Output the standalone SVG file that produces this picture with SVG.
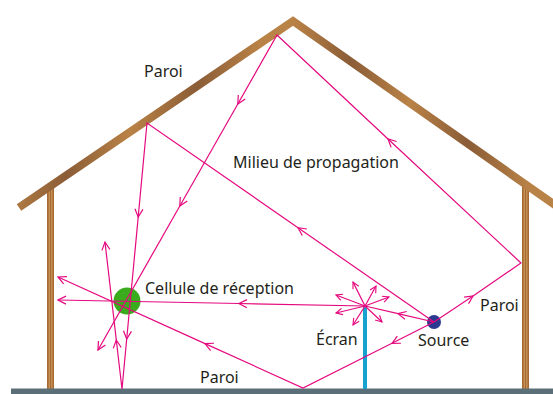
<svg xmlns="http://www.w3.org/2000/svg" width="553" height="394" viewBox="0 0 553 394">
  <style>
    .label { font-family: "Noto Sans", "Open Sans", "DejaVu Sans", sans-serif; font-size: 16px; fill: #231f20; }
    .ray { fill: none; stroke: #e5097f; stroke-width: 1.2; stroke-linejoin: miter; }
    .arr { marker-end: url(#ah); }
    .spoke { fill: none; stroke: #e5097f; stroke-width: 1.2; marker-end: url(#ahs); }
    .wall { fill: #a56b35; }
    .grain { stroke: #c99457; stroke-width: 1.3; }
  </style>
  <defs>
    <linearGradient id="wood" gradientUnits="userSpaceOnUse" x1="0" y1="0" x2="553" y2="0">
      <stop offset="0" stop-color="#b98246"/>
      <stop offset="0.12" stop-color="#8b5d37"/>
      <stop offset="0.235" stop-color="#b98246"/>
      <stop offset="0.356" stop-color="#8b5d37"/>
      <stop offset="0.47" stop-color="#b98246"/>
      <stop offset="0.53" stop-color="#b98246"/>
      <stop offset="0.633" stop-color="#8b5d37"/>
      <stop offset="0.74" stop-color="#b98246"/>
      <stop offset="0.845" stop-color="#8b5d37"/>
      <stop offset="0.96" stop-color="#b98246"/>
    </linearGradient>
    <marker id="ah" viewBox="0 0 10 10" refX="9" refY="5" markerWidth="10" markerHeight="10" markerUnits="userSpaceOnUse" orient="auto">
      <path d="M1,1 L9,5 L1,9" fill="none" stroke="#e5097f" stroke-width="1.2"/>
    </marker>
    <marker id="ahs" viewBox="0 0 10 10" refX="9" refY="5" markerWidth="8" markerHeight="8" markerUnits="userSpaceOnUse" orient="auto">
      <path d="M1,1 L9,5 L1,9" fill="none" stroke="#e5097f" stroke-width="1.4"/>
    </marker>
  </defs>

  <!-- building shell -->
  <g id="house">
    <g id="wall-left">
      <rect class="wall" x="47" y="188" width="7" height="201"/>
      <line class="grain" x1="49.3" y1="188" x2="49.3" y2="389"/>
      <line class="grain" x1="51.8" y1="188" x2="51.8" y2="389"/>
    </g>
    <g id="wall-right">
      <rect class="wall" x="522" y="186" width="7" height="203"/>
      <line class="grain" x1="524.3" y1="186" x2="524.3" y2="389"/>
      <line class="grain" x1="526.8" y1="186" x2="526.8" y2="389"/>
    </g>
    <polyline id="roof" points="19,207.5 293,21 562,210" fill="none" stroke="url(#wood)" stroke-width="8" stroke-linejoin="miter" stroke-miterlimit="10"/>
    <rect id="floor" x="11" y="388.5" width="542" height="5.5" fill="#5a6f78"/>
  </g>

  <!-- screen post -->
  <g id="ecran">
    <rect x="363" y="306" width="4" height="83" fill="#16a3cf"/>
  </g>

  <!-- receiver and emitter -->
  <g id="cellule">
    <circle cx="127" cy="301" r="13.5" fill="#3aab1c"/>
  </g>
  <g id="source">
    <circle cx="434" cy="322" r="7" fill="#2b3990"/>
  </g>

  <!-- propagation paths -->
  <g id="connectors">
    <!-- source -> right wall -> roof peak -> receiver -->
    <path class="ray arr" d="M434,322 L473,296"/>
    <path class="ray arr" d="M473,296 L521,263 L388,139"/>
    <path class="ray arr" d="M388,139 L277,35 L237.8,104"/>
    <path class="ray arr" d="M237.8,104 L179.8,206"/>
    <path class="ray arr" d="M179.8,206 L98,350"/>

    <!-- source -> roof -> floor -> up -->
    <path class="ray arr" d="M434,322 L298,227.7"/>
    <path class="ray arr" d="M298,227.7 L147,123 L138.2,217"/>
    <path class="ray arr" d="M138.2,217 L126.7,339"/>
    <path class="ray arr" d="M126.7,339 L122,389 L116.3,340"/>
    <path class="ray arr" d="M116.3,340 L105,242"/>

    <!-- source -> screen -> receiver -->
    <path class="ray arr" d="M434,322 L398,313.6"/>
    <path class="ray" d="M398,313.6 L365,306"/>
    <path class="ray arr" d="M365,306 L239,303.5"/>
    <path class="ray arr" d="M239,303.5 L58,300"/>

    <!-- source -> floor -> receiver -->
    <path class="ray arr" d="M434,322 L392,343.3"/>
    <path class="ray arr" d="M392,343.3 L303,388 L205,343.6"/>
    <path class="ray arr" d="M205,343.6 L58,277"/>

    <!-- diffraction at the screen edge -->
    <path class="spoke" d="M365,306 L353,282"/>
    <path class="spoke" d="M365,306 L376,286"/>
    <path class="spoke" d="M365,306 L389,297"/>
    <path class="spoke" d="M365,306 L382,322"/>
    <path class="spoke" d="M365,306 L353,325"/>
    <path class="spoke" d="M365,306 L336,313"/>
    <path class="spoke" d="M365,306 L336,295"/>
  </g>

  <g id="labels">
    <text class="label" x="144" y="77">Paroi</text>
    <text class="label" x="233" y="168">Milieu de propagation</text>
    <text class="label" x="145" y="294">Cellule de réception</text>
    <text class="label" x="200" y="383">Paroi</text>
    <text class="label" x="316" y="345">Écran</text>
    <text class="label" x="418" y="346">Source</text>
    <text class="label" x="480" y="311">Paroi</text>
  </g>
</svg>
